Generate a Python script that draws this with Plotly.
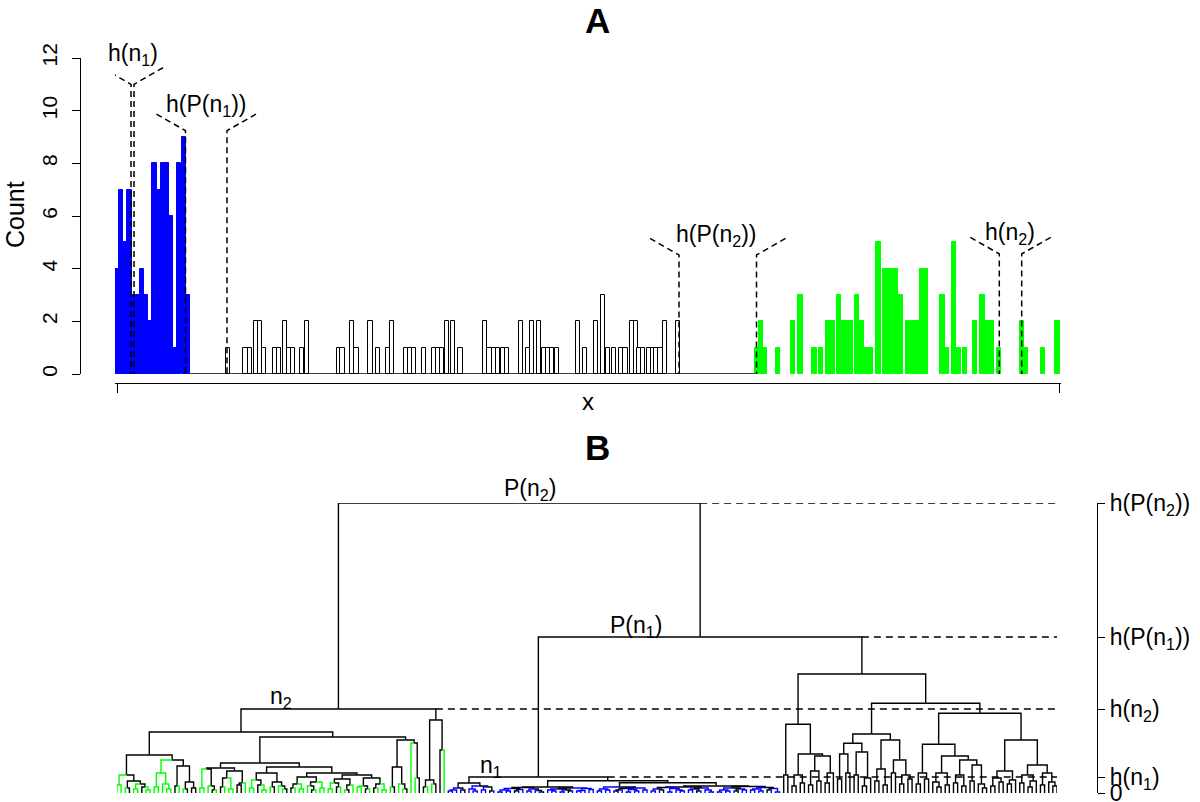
import re
import plotly.graph_objects as go

W, H = 1200, 802
FONT = "Liberation Sans, Arial, Helvetica, sans-serif"

# ---------------- Panel A data (x in axis units, count on y) ----------------
BIN_W = 4.15
blue_x = [2.1, 6.2, 10.4, 14.5, 18.7, 22.9, 27.0, 31.2, 35.3, 39.5, 43.6, 47.8, 52.0, 56.1, 60.3, 64.4, 68.6, 72.7]
blue_count = [4, 7, 5, 7, 3, 3, 4, 3, 2, 8, 7, 8, 8, 6, 1, 8, 9, 3]

black_x = [113, 130.5, 134.7, 141.3, 145.3, 149, 160, 164, 170, 174,
           178, 187.4, 191.6, 223.7, 227.5, 237.4, 241.5, 255.5, 263, 273,
           277, 291, 295, 299, 309, 319, 323.2, 327.4, 331.6, 338,
           345.5, 370.3, 374.5, 378.9, 383.3, 387.7, 392.1, 406, 412.7, 416.7,
           423.7, 428.8, 433.1, 437.4, 441.7, 463.3, 470.3, 481.2, 488, 493.2,
           498.7, 506.2, 510.5, 516.8, 520.6, 524.3, 528.3, 533.7, 537.6, 541.5,
           545.5, 549.7, 563.4]
black_count = [1, 1, 1, 2, 2, 1, 1, 1, 2, 1,
               1, 1, 2, 1, 1, 2, 1, 2, 1, 1,
               2, 1, 1, 1, 1, 1, 1, 1, 2, 2,
               1, 2, 1, 1, 1, 1, 1, 2, 1, 2,
               2, 1, 1, 1, 1, 2, 1, 2, 3, 1,
               1, 1, 1, 2, 2, 1, 1, 1, 1, 1,
               1, 2, 2]

green_x = [641.7, 645.8, 650, 663, 677.8, 685.5, 699.5, 706, 713.2, 717.5,
           724.2, 728, 731.5, 735.8, 742.2, 746.7, 751.5, 756, 763.5, 770.5,
           775, 780.5, 785.5, 792.8, 798, 802.5, 806.8, 810.5, 827.5, 832,
           839.2, 843.5, 850.2, 859.8, 867.5, 872.5, 876.8, 884, 907, 910.5,
           928.2, 942.5]
green_count = [1, 2, 1, 1, 2, 3, 1, 1, 2, 2,
               3, 2, 2, 2, 3, 2, 1, 1, 5, 4,
               4, 4, 3, 2, 2, 2, 4, 4, 3, 1,
               5, 1, 1, 2, 3, 2, 2, 1, 2, 1,
               1, 2]

# dashed threshold brackets in panel A
thr_labels = ["h(n<sub>1</sub>)", "h(P(n<sub>1</sub>))", "h(P(n<sub>2</sub>))", "h(n<sub>2</sub>)"]
thr_left_x = [16, 70.5, 564, 884.3]
thr_right_x = [19, 112, 641.5, 906.7]
thr_top = [11.0, 9.24, 4.52, 4.56]

# ---------------- Panel B data: dendrogram (leaf colour, merge heights) ----------------
H_PN2, H_PN1, H_N2, H_N1 = 290, 156, 84, 16

# n2 subtree
L1a = "((g,g)8,((g,k)5,((g,g)4,(k,(g,g)3)6)9)12)18"
L1b = "(((g,g)6,(g,(g,g)4)9)20,((k,g)7,((g,k)4,(k,k)5)11)27)33"
L2a1 = "(((g,g)5,(g,(k,g)3)7)24,(((k,g)6,(g,g)4)15,((k,k)8,g)10)22)25"
L2x = "(((g,g)5,(k,(g,g)3)8)13,((g,k)6,(g,(g,k)4)7)11)20"
L2y1 = "(((k,g)5,(g,g)4)9,((g,(k,g)3)7,(g,g)5)11)16"
L2y2 = "((((g,g)4,(k,g)6)10,((g,k)3,g)8)14,(((g,g)6,(k,g)4)7,((k,g)5,(g,g)3)9)15)18"
L2b1 = "((g,k)6,(g,(g,k)4)9)26"
L2b2 = "(g,(g,k)15)50"
R1 = "((k,g)6,(g,k)9)13"
R2 = "(k,g)43"

# n1 subtree
N1A = "((((b,b)2,b)3,(b,k)3)5,((b,(b,b)2)4,((b,b)3,(k,b)2)6)7)10"
N1X1 = "((((b,b)1,(b,b)2)3,((k,b)2,b)3.5)4.5,((b,b)2,(b,(b,k)1)2.5)4)5.5"
N1X2 = "(((b,(b,b)2)3,((b,b)1,(k,b)2)3)4,(((b,b)2,b)2.5,(b,b)3.5)4.5)5"
N1B2a = "(((b,b)2,(b,b)3)4,((((b,k)2,b)3,((b,b)1,(b,b)2)3.5)4.5,(b,b)3)5)6"
N1Y1 = "((((b,b)2,(b,k)3)4,((b,b)1,(b,(b,b)2)3)4.5)5.5,(((b,b)3,(k,b)2)4,(b,(b,b)1)3)5)6"
N1Y2 = "((((b,b)1,(b,b)2)3,((b,k)2,(b,b)3)4)5,(((b,b)3,(b,b)2)4,((k,b)3,(b,b)1)4.5)5.5)6.5"

# black cluster
K1a = "(k,k)18"
K1b1 = "((k,k)7,(k,k)10)18"
K1b2 = "(((k,k)8,(k,k)12)22,((k,k)10,k)20)37"
K2a1a = "((k,k)14,(k,k)20)39"
K2a1b = "((k,k)18,((k,k)7,k)15)41"
K2a2a = "((k,k)12,(k,k)8)24"
K2a2b = "((k,k)20,((k,k)9,(k,k)14)18)33"
K2b1a = "((k,k)9,(k,k)14)20"
K2b1b1 = "((k,(k,k)6)11,(k,k)8)20"
K2b1b2 = "(((k,k)10,(k,k)7)18,((k,k)12,(k,(k,k)5)9)28)33"
K2b2a = "(((k,k)7,(k,k)11)15,((k,k)9,k)13)22"
K2b2b = "(((k,k)10,((k,k)6,k)12)18,((k,k)8,(k,(k,k)7)11)20)28"

tree_n2 = (f"((({L1a},{L1b})38,(({L2a1},({L2x},({L2y1},{L2y2})20)26)30,"
           f"({L2b1},{L2b2})53)56)61,({R1},{R2})73){H_N2}")
tree_n1 = f"({N1A},(({N1X1},{N1X2})6,({N1B2a},({N1Y1},{N1Y2})7)10.3)12.3){H_N1}"
tree_K = (f"(({K1a},({K1b1},{K1b2})39)68.7,((({K2a1a},{K2a1b})49.7,({K2a2a},{K2a2b})53)59,"
          f"(({K2b1a},({K2b1b1},{K2b1b2})37)48.7,({K2b2a},{K2b2b})53)79.7)89.7)119")
tree_root = f"({tree_n2},({tree_n1},{tree_K}){H_PN1}){H_PN2}"

axis_labels_B = ["0", "h(n<sub>1</sub>)", "h(n<sub>2</sub>)", "h(P(n<sub>1</sub>))", "h(P(n<sub>2</sub>))"]

COL = {"g": "#00FF00", "b": "#0000FF", "k": "#000000"}


def parse_tree(s):
    s = re.sub(r"\s+", "", s)
    pos = 0

    def rec():
        nonlocal pos
        if s[pos] == "(":
            pos += 1
            a = rec()
            pos += 1
            b = rec()
            pos += 1
            m = re.match(r"[0-9.]+", s[pos:])
            pos += m.end()
            return {"h": float(m.group()), "kids": [a, b]}
        c = s[pos]
        pos += 1
        return {"h": 0.0, "leaf": c}

    return rec()


def place(node, counter):
    if "leaf" in node:
        node["x"] = counter[0]
        counter[0] += 1
        node["cols"] = {node["leaf"]}
    else:
        for k in node["kids"]:
            place(k, counter)
        node["x"] = (node["kids"][0]["x"] + node["kids"][1]["x"]) / 2
        node["cols"] = node["kids"][0]["cols"] | node["kids"][1]["cols"]


def collect(node, segs):
    if "leaf" in node:
        return
    for k in node["kids"]:
        c = COL[next(iter(k["cols"]))] if len(k["cols"]) == 1 else "#000000"
        xs, ys = segs.setdefault(c, ([], []))
        xs += [node["x"], k["x"], k["x"], None]
        ys += [node["h"], node["h"], k["h"], None]
        collect(k, segs)


root = parse_tree(tree_root)
counter = [0]
place(root, counter)
N_LEAVES = counter[0]
segs = {}
collect(root, segs)

node_n2 = root["kids"][0]
node_pn1 = root["kids"][1]
node_n1 = node_pn1["kids"][0]


def px(x):
    return x / W


def py(y):
    return 1 - y / H


# ---------------- Figure ----------------
fig = go.Figure()

# Panel A bars
fig.add_trace(go.Bar(x=blue_x, y=blue_count, width=BIN_W, xaxis="x", yaxis="y",
                     marker=dict(color="#0000FF", line=dict(color="#0000FF", width=1))))
fig.add_trace(go.Bar(x=black_x, y=black_count, width=BIN_W, xaxis="x", yaxis="y",
                     marker=dict(color="white", line=dict(color="black", width=1))))
fig.add_trace(go.Bar(x=green_x, y=green_count, width=BIN_W, xaxis="x", yaxis="y",
                     marker=dict(color="#00FF00", line=dict(color="#00FF00", width=1))))
# zero-count baseline between the coloured groups
base_x0 = max(blue_x) + BIN_W / 2
base_x1 = min(green_x) - BIN_W / 2
fig.add_trace(go.Scatter(x=[base_x0, base_x1], y=[0, 0], mode="lines", xaxis="x", yaxis="y",
                         line=dict(color="black", width=1.4), cliponaxis=False))

# dashed brackets
BR_DX, BR_DY = 29, 0.63
for xl, xr, top in zip(thr_left_x, thr_right_x, thr_top):
    fig.add_trace(go.Scatter(x=[xl - BR_DX, xl, xl, None, xr + BR_DX, xr, xr],
                             y=[top + BR_DY, top, 0, None, top + BR_DY, top, 0],
                             mode="lines", xaxis="x", yaxis="y", cliponaxis=False,
                             line=dict(color="black", width=1.5, dash="6px,4px")))

# Panel B dashed height lines
B_X0, B_X1 = 117, 1057
x_end = (N_LEAVES - 1) * (1090 - B_X0) / (B_X1 - B_X0)
for nd in [root, node_pn1, node_n2, node_n1]:
    fig.add_trace(go.Scatter(x=[nd["kids"][1]["x"], x_end], y=[nd["h"], nd["h"]],
                             mode="lines", xaxis="x2", yaxis="y2", cliponaxis=False,
                             line=dict(color="black", width=1.5, dash="7px,5px")))

# dendrogram
for c in ["#000000", "#00FF00", "#0000FF"]:
    if c in segs:
        xs, ys = segs[c]
        fig.add_trace(go.Scatter(x=xs, y=ys, mode="lines", xaxis="x2", yaxis="y2",
                                 cliponaxis=False, line=dict(color=c, width=1.4)))


def label(text, x, y, size, angle=0):
    return dict(text=text, x=px(x), y=py(y), xref="paper", yref="paper",
                xanchor="center", yanchor="middle", textangle=angle, showarrow=False,
                font=dict(size=size, family=FONT, color="black"))


ann = [label("<b>A</b>", 597, 21, 35), label("<b>B</b>", 597, 447, 35),
       label("Count", 15, 215, 25, -90), label("x", 588, 401, 24)]
for lab, (lx, ly) in zip(thr_labels, [(133, 54), (206, 106), (716, 235), (1010, 234)]):
    ann.append(label(lab, lx, ly, 23))
for lab, (lx, ly) in zip(["P(n<sub>2</sub>)", "P(n<sub>1</sub>)", "n<sub>2</sub>", "n<sub>1</sub>"],
                         [(530, 489), (636, 626), (281, 697), (491, 766)]):
    ann.append(label(lab, lx, ly, 23))

fig.update_layout(
    width=W, height=H, margin=dict(l=0, r=0, t=0, b=0, pad=0), autosize=False,
    paper_bgcolor="white", plot_bgcolor="white", showlegend=False,
    barmode="overlay", bargap=0,
    font=dict(family=FONT, color="black"),
    xaxis=dict(domain=[px(115), px(1061)], range=[0, 946], anchor="free", position=py(383),
               showline=True, linecolor="black", linewidth=1.3, ticks="outside", ticklen=9,
               tickcolor="black", tickwidth=1.3, tickvals=[2, 944], ticktext=["", ""],
               showgrid=False, zeroline=False, automargin=False),
    yaxis=dict(domain=[py(374), py(58)], range=[0, 12], anchor="free", position=px(80),
               showline=True, linecolor="black", linewidth=1.3, ticks="outside", ticklen=8,
               tickcolor="black", tickwidth=1.3, tickvals=[0, 2, 4, 6, 8, 10, 12],
               tickangle=-90, tickfont=dict(size=21, family=FONT, color="black"),
               ticklabelstandoff=6, ticklabeloverflow="allow",
               showgrid=False, zeroline=False, automargin=False),
    xaxis2=dict(domain=[px(B_X0), px(B_X1)], range=[0, N_LEAVES - 1], anchor="y2",
                visible=False, automargin=False),
    yaxis2=dict(domain=[py(793), py(503)], range=[0, H_PN2], anchor="free", position=px(1097),
                side="right", showline=True, linecolor="black", linewidth=1.3,
                ticks="outside", ticklen=7, tickcolor="black", tickwidth=1.3,
                tickvals=[0, H_N1, H_N2, H_PN1, H_PN2], ticktext=axis_labels_B,
                tickfont=dict(size=23, family=FONT, color="black"),
                ticklabeloverflow="allow",
                showgrid=False, zeroline=False, automargin=False),
    annotations=ann,
)

fig.write_html("out.html", config={"displayModeBar": False},
               post_script="document.body.style.margin='0';document.body.style.overflow='hidden';")
